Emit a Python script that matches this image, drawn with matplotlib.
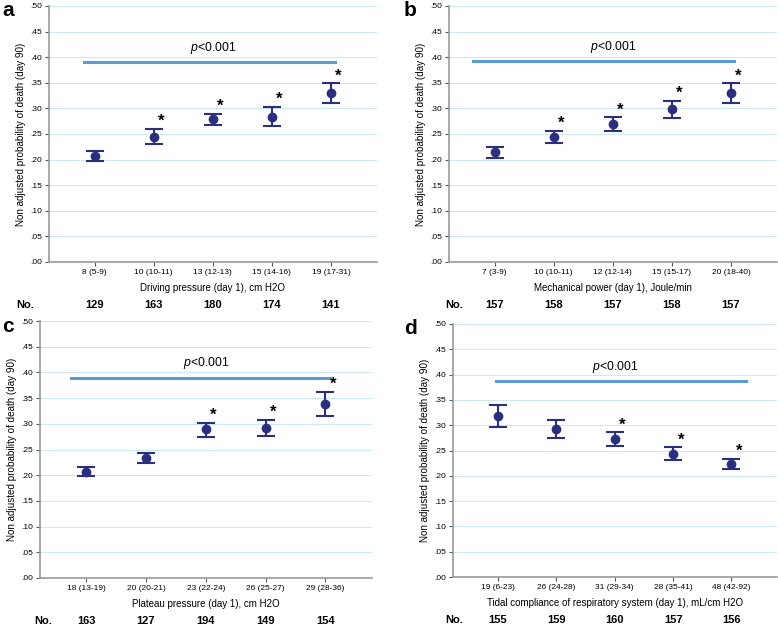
import matplotlib.pyplot as plt

plt.rcParams['font.family'] = ['Liberation Sans', 'DejaVu Sans']
plt.rcParams['mathtext.fontset'] = 'custom'
plt.rcParams['mathtext.rm'] = 'Liberation Sans'
plt.rcParams['mathtext.it'] = 'Liberation Sans:italic'

# data
cats_a = ['8 (5-9)', '10 (10-11)', '13 (12-13)', '15 (14-16)', '19 (17-31)']
mean_a = [0.207, 0.245, 0.279, 0.284, 0.330]
low_a = [0.197, 0.231, 0.268, 0.265, 0.310]
high_a = [0.217, 0.260, 0.290, 0.303, 0.349]
star_a = [False, True, True, True, True]
n_a = [129, 163, 180, 174, 141]

cats_b = ['7 (3-9)', '10 (10-11)', '12 (12-14)', '15 (15-17)', '20 (18-40)']
mean_b = [0.214, 0.244, 0.270, 0.298, 0.330]
low_b = [0.203, 0.232, 0.256, 0.281, 0.310]
high_b = [0.224, 0.256, 0.283, 0.315, 0.349]
star_b = [False, True, True, True, True]
n_b = [157, 158, 157, 158, 157]

cats_c = ['18 (13-19)', '20 (20-21)', '23 (22-24)', '26 (25-27)', '29 (28-36)']
mean_c = [0.206, 0.233, 0.289, 0.291, 0.339]
low_c = [0.198, 0.223, 0.274, 0.276, 0.315]
high_c = [0.216, 0.244, 0.302, 0.308, 0.362]
star_c = [False, False, True, True, True]
n_c = [163, 127, 194, 149, 154]

cats_d = ['19 (6-23)', '26 (24-28)', '31 (29-34)', '28 (35-41)', '48 (42-92)']
mean_d = [0.319, 0.292, 0.272, 0.244, 0.224]
low_d = [0.297, 0.275, 0.258, 0.232, 0.213]
high_d = [0.340, 0.310, 0.286, 0.256, 0.234]
star_d = [False, False, True, True, True]
n_d = [155, 159, 160, 157, 156]

xlabels = ['Driving pressure (day 1), cm H2O',
           'Mechanical power (day 1), Joule/min',
           'Plateau pressure (day 1), cm H2O',
           'Tidal compliance of respiratory system (day 1), mL/cm H2O']
letters = ['a', 'b', 'c', 'd']
pline_y = [0.390, 0.393, 0.390, 0.387]
pline_x = [(0.83, 5.07), (0.64, 5.05), (0.75, 5.07), (0.97, 5.25)]
no_x = [-0.17, 0.31, 0.28, 0.25]

navy = '#2b2f7e'
pblue = '#5b9bd5'

W, H = 778, 626
fig = plt.figure(figsize=(W / 100, H / 100), dpi=100)
# axes boxes in pixels: left, top, right, bottom
boxes = [(49, 6, 377, 262), (449, 6, 777, 262), (40, 321, 372, 578), (453, 324, 777, 577)]
letter_pos = [(2, 11), (404, 11), (2, 327), (404, 329)]

panels = [(cats_a, mean_a, low_a, high_a, star_a, n_a),
          (cats_b, mean_b, low_b, high_b, star_b, n_b),
          (cats_c, mean_c, low_c, high_c, star_c, n_c),
          (cats_d, mean_d, low_d, high_d, star_d, n_d)]

for i, (cats, mean, low, high, star, n) in enumerate(panels):
    l, t, r, b = boxes[i]
    ax = fig.add_axes([l / W, (H - b) / H, (r - l) / W, (b - t) / H])
    x = list(range(1, len(cats) + 1))
    yerr = [[m - lo for m, lo in zip(mean, low)], [hi - m for m, hi in zip(mean, high)]]
    ax.errorbar(x, mean, yerr=yerr, fmt='o', color=navy, ms=6, capsize=6.5,
                elinewidth=1.5, capthick=1.5, zorder=3)
    for xi, hi, s in zip(x, high, star):
        if s:
            ax.text(xi + 0.13, hi + 0.014, '*', fontsize=12, fontweight='bold',
                    ha='center', va='center')
    ax.plot(pline_x[i], [pline_y[i]] * 2, color=pblue, lw=2.2, zorder=2)
    ax.text(3, pline_y[i] + 0.012, r'$\it{p}$<0.001', fontsize=8.8, ha='center', va='bottom')

    ax.set_xlim(0.23, 5.78)
    ax.set_ylim(0, 0.5)
    yt = [k * 0.05 for k in range(11)]
    ax.set_yticks(yt)
    ax.set_yticklabels(['.%02d' % round(v * 100) for v in yt], fontsize=6)
    ax.set_xticks(x)
    ax.set_xticklabels(cats, fontsize=6)
    ax.grid(axis='y', color='#cdeaf3', lw=0.8)
    ax.set_axisbelow(True)
    for sp in ['top', 'right']:
        ax.spines[sp].set_visible(False)
    for sp in ['left', 'bottom']:
        ax.spines[sp].set_color('#999999')
        ax.spines[sp].set_linewidth(1.2)
    ax.tick_params(axis='both', length=3, width=0.8, color='#555555', pad=2)
    ax.set_xlabel(xlabels[i], fontsize=7, labelpad=5)
    ax.set_ylabel('Non adjusted probability of death (day 90)', fontsize=7.1, labelpad=3)

    ax.annotate('No.', xy=(no_x[i], 0), xycoords=('data', 'axes fraction'),
                xytext=(0, -43), textcoords='offset pixels', ha='center', va='center',
                fontsize=8, fontweight='bold', annotation_clip=False)
    for xi, cnt in zip(x, n):
        ax.annotate(str(cnt), xy=(xi, 0), xycoords=('data', 'axes fraction'),
                    xytext=(0, -43), textcoords='offset pixels', ha='center', va='center',
                    fontsize=8, fontweight='bold', annotation_clip=False)

    lx, ly = letter_pos[i]
    fig.text(lx / W, 1 - ly / H, letters[i], fontsize=15, fontweight='bold',
             ha='left', va='center')

fig.savefig('out.png', dpi=100)
